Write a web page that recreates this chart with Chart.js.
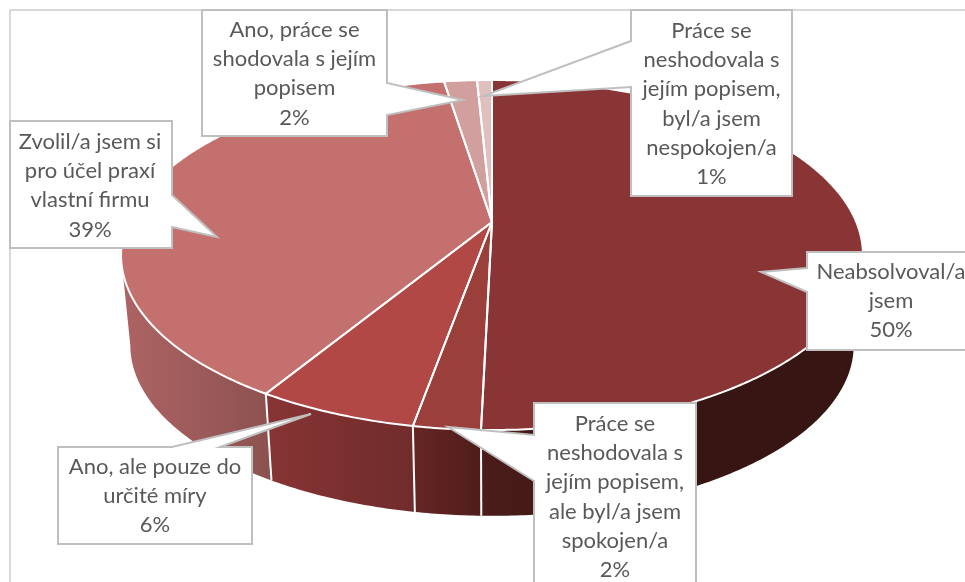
<!DOCTYPE html>
<html lang="cs">
<head>
<meta charset="utf-8">
<style>html,body{margin:0;padding:0;background:#fff;overflow:hidden}canvas{display:block}</style>
<script src="https://cdn.jsdelivr.net/npm/chart.js@4"></script>
</head>
<body>
<canvas id="c" width="965" height="582"></canvas>
<script>
const categories = [
  "Neabsolvoval/a jsem",
  "Práce se neshodovala s jejím popisem, ale byl/a jsem spokojen/a",
  "Ano, ale pouze do určité míry",
  "Zvolil/a jsem si pro účel praxí vlastní firmu",
  "Ano, práce se shodovala s jejím popisem",
  "Práce se neshodovala s jejím popisem, byl/a jsem nespokojen/a"
];
const values = [50.39, 2.44, 5.89, 38.78, 1.72, 0.78];
const topColors = ["#8a3535", "#9b3f3b", "#b14846", "#c3706e", "#d19f9d", "#e0bfbf"];
const wallFrom = ["#4a1c1a", "#662623", "#873434", "#ae6364", "#a07573", "#a88888"];
const wallTo   = ["#371512", "#4f1d1b", "#702c2b", "#8d5250", "#a07573", "#a88888"];
const labelLines = [
  ["Neabsolvoval/a", "jsem"],
  ["Práce se", "neshodovala s", "jejím popisem,", "ale byl/a jsem", "spokojen/a"],
  ["Ano, ale pouze do", "určité míry"],
  ["Zvolil/a jsem si", "pro účel praxí", "vlastní firmu"],
  ["Ano, práce se", "shodovala s jejím", "popisem"],
  ["Práce se", "neshodovala s", "jejím popisem,", "byl/a jsem", "nespokojen/a"]
];

// Callout geometry: box, first text line, and outline of the pointer
const callouts = [
  {x0:807,y0:252,x1:1000,y1:350,cx:891,ty:272,side:"left",a:268,b:292,tip:[761,272]},
  {x0:534,y0:403,x1:696,y1:640,cx:615,ty:424,side:"left",a:435,b:481,tip:[448,427]},
  {x0:58,y0:447,x1:252,y1:544,cx:155,ty:467,side:"top",a:172,b:220,tip:[311,414]},
  {x0:10,y0:121,x1:172,y1:248,cx:90,ty:142,side:"right",a:195,b:227,tip:[217,237]},
  {x0:202,y0:10,x1:387,y1:136,cx:294.5,ty:30,side:"right",a:83,b:115,tip:[463,100]},
  {x0:631,y0:10,x1:792,y1:196,cx:711.5,ty:31,side:"left",a:41,b:87,tip:[483,96]}
];

// Perspective projection of the pie disc
const K = 0.1886;
const topDisc = {A:364.3, B:168.8, cx:492, cy:222};
const botDisc = {A:355.2, B:164.6, cx:492, cy:313};
const project = (d, a) => {
  const u = Math.cos(a), v = Math.sin(a), w = 1 - K * v;
  return [d.cx + d.A * u / w, d.cy + d.B * v / w];
};
const WALL_START = Math.asin(K), WALL_END = Math.PI - Math.asin(K);

const trace = (ctx, d, a0, a1, first) => {
  const n = Math.max(2, Math.ceil(Math.abs(a1 - a0) / 0.01));
  for (let i = 0; i <= n; i++) {
    const p = project(d, a0 + (a1 - a0) * i / n);
    if (i === 0 && first) ctx.moveTo(p[0], p[1]); else ctx.lineTo(p[0], p[1]);
  }
};

const pie3d = {
  id: "pie3d",
  beforeDatasetDraw(chart) {
    const ctx = chart.ctx;
    const arcs = chart.getDatasetMeta(0).data;
    ctx.save();
    ctx.lineJoin = "round";

    // frame
    ctx.strokeStyle = "#d9d9d9"; ctx.lineWidth = 2;
    ctx.beginPath(); ctx.moveTo(10, 590); ctx.lineTo(10, 10); ctx.lineTo(975, 10); ctx.stroke();

    // side walls
    arcs.forEach((arc, i) => {
      const a0 = Math.max(arc.startAngle, WALL_START), a1 = Math.min(arc.endAngle, WALL_END);
      if (a1 <= a0) return;
      const p0 = project(topDisc, a0), p1 = project(topDisc, a1);
      const g = i === 0
        ? ctx.createLinearGradient(482, 0, 700, 0)
        : ctx.createLinearGradient(Math.min(p0[0], p1[0]), 0, Math.max(p0[0], p1[0]), 0);
      g.addColorStop(0, wallFrom[i]); g.addColorStop(1, wallTo[i]);
      ctx.fillStyle = g;
      ctx.beginPath();
      trace(ctx, topDisc, a0, a1, true);
      trace(ctx, botDisc, a1, a0, false);
      ctx.closePath();
      ctx.fill();
    });
    // wall separators
    ctx.strokeStyle = "#ffffff"; ctx.lineWidth = 2;
    arcs.forEach((arc) => {
      const a = arc.startAngle;
      if (a > WALL_START && a < WALL_END) {
        const p = project(topDisc, a), q = project(botDisc, a);
        ctx.beginPath(); ctx.moveTo(p[0], p[1]); ctx.lineTo(q[0], q[1]); ctx.stroke();
      }
    });

    // top faces
    arcs.forEach((arc, i) => {
      ctx.fillStyle = topColors[i];
      ctx.beginPath();
      ctx.moveTo(topDisc.cx, topDisc.cy);
      trace(ctx, topDisc, arc.startAngle, arc.endAngle, false);
      ctx.closePath();
      ctx.fill();
    });
    ctx.strokeStyle = "#ffffff"; ctx.lineWidth = 2;
    arcs.forEach((arc) => {
      ctx.beginPath();
      ctx.moveTo(topDisc.cx, topDisc.cy);
      trace(ctx, topDisc, arc.startAngle, arc.endAngle, false);
      ctx.closePath();
      ctx.stroke();
    });
    ctx.restore();
    return false;
  },
  afterDraw(chart) {
    const ctx = chart.ctx;
    ctx.save();
    callouts.forEach((c, i) => {
      ctx.beginPath();
      ctx.moveTo(c.x0, c.y0);
      if (c.side === "top") { ctx.lineTo(c.a, c.y0); ctx.lineTo(c.tip[0], c.tip[1]); ctx.lineTo(c.b, c.y0); }
      ctx.lineTo(c.x1, c.y0);
      if (c.side === "right") { ctx.lineTo(c.x1, c.a); ctx.lineTo(c.tip[0], c.tip[1]); ctx.lineTo(c.x1, c.b); }
      ctx.lineTo(c.x1, c.y1);
      ctx.lineTo(c.x0, c.y1);
      if (c.side === "left") { ctx.lineTo(c.x0, c.b); ctx.lineTo(c.tip[0], c.tip[1]); ctx.lineTo(c.x0, c.a); }
      ctx.closePath();
      ctx.fillStyle = "#ffffff"; ctx.fill();
      ctx.strokeStyle = "#bfbfbf"; ctx.lineWidth = 2; ctx.stroke();

      ctx.fillStyle = "#595959";
      ctx.font = "22px Lato, 'Noto Sans', sans-serif";
      ctx.textAlign = "center"; ctx.textBaseline = "middle";
      const lines = labelLines[i].concat([Math.round(values[i]) + "%"]);
      lines.forEach((t, j) => ctx.fillText(t, c.cx, c.ty + j * 29.2));
    });
    ctx.restore();
  }
};

new Chart(document.getElementById("c"), {
  type: "pie",
  data: { labels: categories, datasets: [{ data: values, backgroundColor: topColors, borderColor: "#ffffff" }] },
  options: {
    responsive: false,
    animation: false,
    rotation: 0,
    plugins: { legend: { display: false }, tooltip: { enabled: false } }
  },
  plugins: [pie3d]
});
</script>
</body>
</html>
